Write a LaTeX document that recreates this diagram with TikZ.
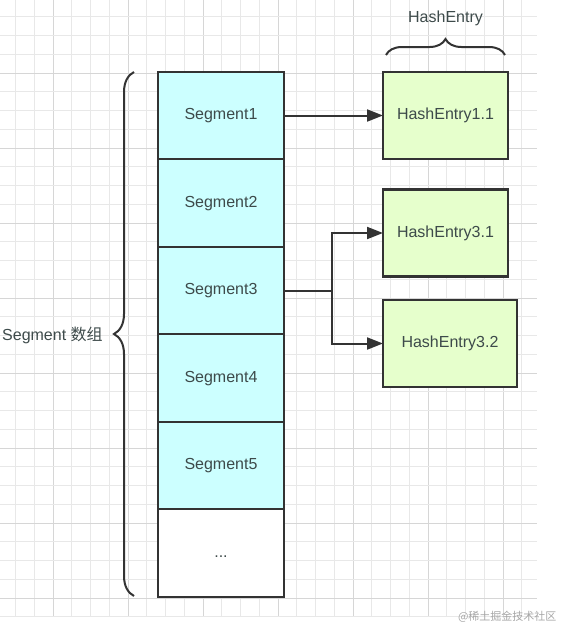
\documentclass[tikz,border=0pt]{standalone}
\usepackage{fontspec}
\setmainfont{Liberation Sans}
\newfontfamily\cjk{Noto Sans CJK SC}
\usetikzlibrary{positioning,arrows.meta,decorations.pathreplacing}
\definecolor{segfill}{HTML}{CCFFFF}
\definecolor{entryfill}{HTML}{E6FFCC}
\definecolor{stroke}{HTML}{333333}
\definecolor{txt}{HTML}{3D4A4A}
\begin{document}
\begin{tikzpicture}[x=1pt, y=-1pt,
	every node/.style={font=\fontsize{16}{19}\selectfont, text=txt},
	segbox/.style={draw=stroke, line width=2.4pt, fill=segfill, minimum width=126pt, minimum height=87.5pt, outer sep=0pt, inner sep=0pt, text height=11.5pt, text depth=3.4pt},
	entrybox/.style={draw=stroke, line width=2.4pt, fill=entryfill, minimum height=87pt, outer sep=0pt, inner sep=0pt, text height=11.5pt, text depth=3.4pt},
	arr/.style={draw=stroke, line width=2pt, -{Triangle[length=16pt, width=12pt]}},
	curly/.style={draw=stroke, line width=2pt, decorate, decoration={brace, amplitude=#1}}]
	\useasboundingbox (0,0) rectangle (563,627);
	% grid
	\foreach \i in {0,...,27} {
		\pgfmathtruncatemacro{\m}{mod(\i,4)}
		\ifnum\m=2
			\draw[line width=1pt, color=black!16] (15.5+18.75*\i,0) -- (15.5+18.75*\i,616);
		\else
			\draw[line width=0.8pt, color=black!9] (15.5+18.75*\i,0) -- (15.5+18.75*\i,616);
		\fi
	}
	\foreach \j in {0,...,32} {
		\pgfmathtruncatemacro{\m}{mod(\j,4)}
		\ifnum\m=3
			\draw[line width=1pt, color=black!16] (0,16.75+18.75*\j) -- (537,16.75+18.75*\j);
		\else
			\draw[line width=0.8pt, color=black!9] (0,16.75+18.75*\j) -- (537,16.75+18.75*\j);
		\fi
	}
	% segment array
	\node[segbox] (seg1) at (221,115.5) {Segment1};
	\node[segbox, below=0pt of seg1] (seg2) {Segment2};
	\node[segbox, below=0pt of seg2] (seg3) {Segment3};
	\node[segbox, below=0pt of seg3] (seg4) {Segment4};
	\node[segbox, below=0pt of seg4] (seg5) {Segment5};
	\node[segbox, fill=white, below=0pt of seg5] (segdots) {...};
	% hash entries
	\node[entrybox, minimum width=125pt] (he11) at (445.5,115.5) {HashEntry1.1};
	\node[entrybox, minimum width=125pt] (he31) at (445.5,233) {HashEntry3.1};
	\node[entrybox, minimum width=134pt] (he32) at (450,343.5) {HashEntry3.2};
	% braces and labels
	\draw[curly=20pt] (134,596) -- (134,72);
	\node[anchor=west, inner sep=1pt] (arrlabel) at (1,335) {Segment {\cjk 数组}};
	\draw[curly=16pt] (386,55) -- (505,55);
	\node (entrylabel) at (445.5,18) {HashEntry};
	% connectors
	\draw[arr] (seg1) -- (he11);
	\draw[draw=stroke, line width=2pt] (seg3.east) -- ++(48,0) coordinate (fork);
	\draw[arr] (fork) |- (he31);
	\draw[arr] (fork) |- (he32);
	\node[font=\cjk\fontsize{11}{13}\selectfont, text=black!35, anchor=east] (mark) at (560,617) {@稀土掘金技术社区};
\end{tikzpicture}
\end{document}
